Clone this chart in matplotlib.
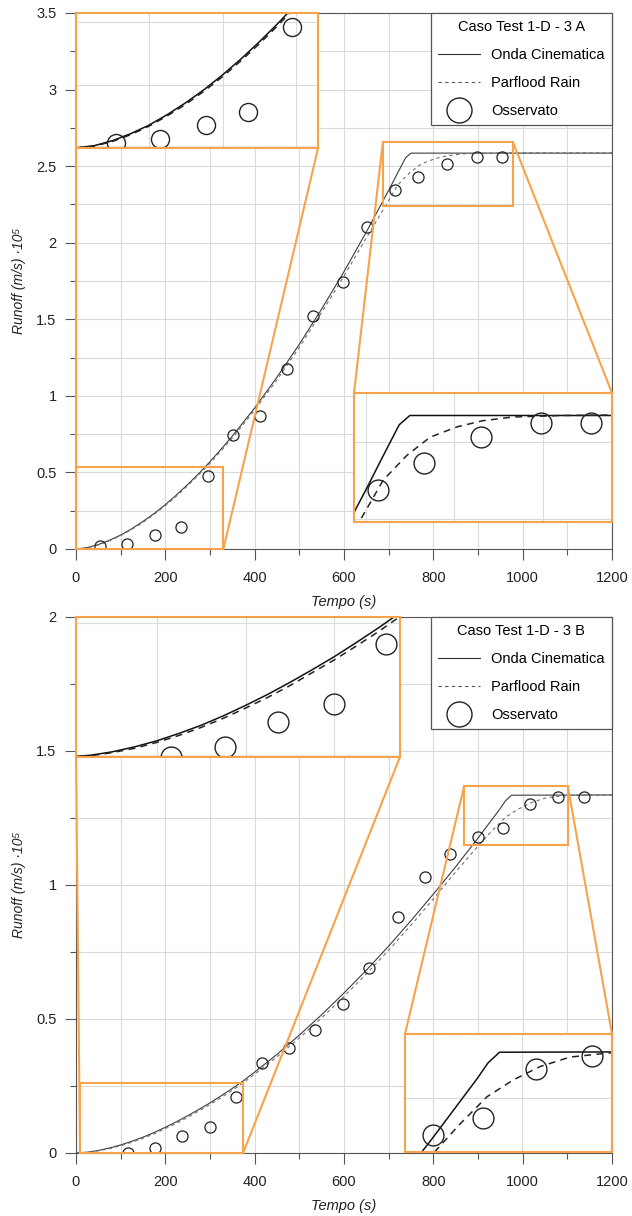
import matplotlib
matplotlib.use('Agg')
import matplotlib.pyplot as plt
from matplotlib.patches import Rectangle, ConnectionPatch
from matplotlib.lines import Line2D
from matplotlib.ticker import MultipleLocator, FuncFormatter

plt.rcParams['font.family'] = ['Liberation Sans', 'DejaVu Sans']

# --- Caso Test 1-D - 3 A ---
t_obs_a = [54, 114, 177, 235, 295, 351, 412, 472, 531, 598, 651, 714, 766, 830, 898, 954]
q_obs_a = [0.02, 0.035, 0.092, 0.144, 0.478, 0.745, 0.87, 1.175, 1.52, 1.745, 2.105,
           2.345, 2.43, 2.515, 2.56, 2.56]

t_onda_a = [0, 25, 50, 75, 100, 125, 150, 175, 200, 225, 250, 275, 300, 325, 350, 400,
            450, 500, 550, 600, 650, 700, 720, 738, 750, 1200]
q_onda_a = [0, 0.009, 0.029, 0.057, 0.091, 0.133, 0.18, 0.232, 0.29, 0.353, 0.421, 0.493,
            0.57, 0.652, 0.737, 0.921, 1.122, 1.337, 1.567, 1.811, 2.07, 2.342, 2.455,
            2.555, 2.585, 2.585]

t_parf_a = [0, 25, 50, 75, 100, 125, 150, 175, 200, 225, 250, 275, 300, 325, 350, 400,
            450, 500, 550, 600, 650, 694, 720, 747, 773, 803, 832, 866, 920, 1000, 1200]
q_parf_a = [0, 0.007, 0.026, 0.053, 0.087, 0.128, 0.174, 0.226, 0.283, 0.346, 0.413,
            0.485, 0.561, 0.642, 0.725, 0.907, 1.105, 1.317, 1.545, 1.782, 2.032, 2.246,
            2.376, 2.457, 2.515, 2.548, 2.568, 2.58, 2.585, 2.587, 2.587]

# --- Caso Test 1-D - 3 B ---
t_obs_b = [116, 177, 237, 300, 358, 416, 477, 535, 598, 656, 721, 781, 837, 900, 956,
           1016, 1079, 1137]
q_obs_b = [0.0, 0.019, 0.065, 0.098, 0.21, 0.336, 0.39, 0.46, 0.556, 0.69, 0.88, 1.03,
           1.116, 1.18, 1.212, 1.304, 1.328, 1.328]

t_onda_b = [0, 25, 50, 75, 100, 125, 150, 175, 200, 225, 250, 275, 300, 325, 350, 375,
            400, 450, 500, 550, 600, 650, 700, 750, 800, 850, 900, 950, 962, 975, 1200]
q_onda_b = [0, 0.003, 0.0095, 0.0187, 0.030, 0.0438, 0.059, 0.0766, 0.096, 0.1166, 0.139,
            0.1625, 0.187, 0.2135, 0.241, 0.27, 0.302, 0.368, 0.44, 0.516, 0.597, 0.682,
            0.772, 0.867, 0.966, 1.068, 1.175, 1.286, 1.315, 1.335, 1.336]

t_parf_b = [0, 25, 50, 75, 100, 125, 150, 175, 200, 225, 250, 275, 300, 325, 350, 375,
            400, 450, 500, 550, 600, 650, 700, 750, 800, 850, 900, 930, 961, 990, 1020,
            1054, 1100, 1200]
q_parf_b = [0, 0.002, 0.008, 0.016, 0.027, 0.040, 0.055, 0.072, 0.091, 0.111, 0.133,
            0.157, 0.181, 0.207, 0.234, 0.263, 0.294, 0.359, 0.429, 0.504, 0.584, 0.668,
            0.757, 0.850, 0.948, 1.049, 1.145, 1.20, 1.252, 1.283, 1.308, 1.326, 1.334,
            1.336]

titles = ['Caso Test 1-D - 3 A', 'Caso Test 1-D - 3 B']

ORANGE = '#F7A34C'
GRID = '#dadada'
AXC = '#555555'


def style_main(ax, ymax):
    ax.set_xlim(0, 1200)
    ax.set_ylim(0, ymax)
    ax.xaxis.set_major_locator(MultipleLocator(200))
    ax.xaxis.set_minor_locator(MultipleLocator(100))
    ax.yaxis.set_major_locator(MultipleLocator(0.5))
    ax.yaxis.set_minor_locator(MultipleLocator(0.25))
    ax.yaxis.set_major_formatter(FuncFormatter(lambda v, p: '%g' % v))
    ax.grid(which='both', color=GRID, lw=0.8)
    ax.set_axisbelow(True)
    ax.tick_params(which='major', direction='out', length=8, width=0.8, color=AXC,
                   labelsize=10.5, labelcolor='#222')
    ax.tick_params(axis='x', which='major', pad=8)
    ax.tick_params(axis='y', which='major', pad=6)
    ax.tick_params(which='minor', direction='out', length=4, width=0.8, color=AXC)
    for s in ax.spines.values():
        s.set_color(AXC)
        s.set_linewidth(0.8)
    ax.set_xlabel('Tempo (s)', style='italic', fontsize=10.5, color='#222', labelpad=7)
    ax.set_ylabel('Runoff (m/s) ·10⁵', style='italic', fontsize=10, color='#222',
                  labelpad=7)


def draw_series(ax, t_on, q_on, t_pf, q_pf, t_ob, q_ob, ms, inset=False):
    if inset:
        ax.plot(t_on, q_on, color='#111111', lw=1.1)
        ax.plot(t_pf, q_pf, color='#222222', lw=1.1, dashes=(4.5, 3.5))
        ax.plot(t_ob, q_ob, 'o', ms=ms, mfc='none', mec='#222222', mew=1.0)
    else:
        ax.plot(t_on, q_on, color='#3c3c3c', lw=0.8)
        ax.plot(t_pf, q_pf, color='#707070', lw=0.8, dashes=(3, 3))
        ax.plot(t_ob, q_ob, 'o', ms=ms, mfc='none', mec='#222222', mew=0.9)


def add_zoom(ax, bounds, xlim, ylim, series, ms, corners, baseline=False):
    axins = ax.inset_axes(bounds, transform=ax.transData)
    axins.set_facecolor('white')
    draw_series(axins, *series, ms=ms, inset=True)
    if baseline:
        axins.axhline(0, color='#444444', lw=1.6)
    axins.set_xlim(*xlim)
    axins.set_ylim(*ylim)
    axins.xaxis.set_major_locator(MultipleLocator(100))
    axins.yaxis.set_major_locator(MultipleLocator(0.25))
    axins.grid(color=GRID, lw=0.8)
    axins.set_axisbelow(True)
    axins.tick_params(length=0, labelbottom=False, labelleft=False)
    for s in axins.spines.values():
        s.set_color(ORANGE)
        s.set_linewidth(1.5)

    x0, x1 = xlim
    y0, y1 = ylim
    ax.add_patch(Rectangle((x0, y0), x1 - x0, y1 - y0, fill=False, ec=ORANGE, lw=1.5,
                           zorder=4, clip_on=False))
    for cx, cy in corners:
        con = ConnectionPatch(xyA=(cx, cy), coordsA=axins.transAxes,
                              xyB=(x0 + cx * (x1 - x0), y0 + cy * (y1 - y0)),
                              coordsB=ax.transData, color=ORANGE, lw=1.5, zorder=4)
        con.set_clip_on(False)
        ax.add_artist(con)
    return axins


def add_legend(ax, title):
    handles = [Line2D([], [], color='#333333', lw=0.8),
               Line2D([], [], color='#555555', lw=0.8, dashes=(3, 3)),
               Line2D([], [], ls='none', marker='o', ms=18, mfc='none', mec='#222222',
                      mew=1.0)]
    labels = ['Onda Cinematica', 'Parflood Rain', 'Osservato']
    leg = ax.legend(handles, labels, loc='upper right', title=title, fontsize=10.5,
                    title_fontsize=10.5, frameon=True, fancybox=False, framealpha=1,
                    edgecolor=AXC, borderaxespad=0, handlelength=2.9, handletextpad=0.75,
                    labelspacing=0.95, borderpad=0.5)
    leg.get_frame().set_linewidth(0.9)
    leg.set_zorder(6)


fig = plt.figure(figsize=(6.32, 12.16), dpi=100)
ax_a = fig.add_axes([76 / 632, 1 - 549 / 1216, 536 / 632, 536 / 1216])
ax_b = fig.add_axes([76 / 632, 1 - 1153 / 1216, 536 / 632, 536 / 1216])

series_a = (t_onda_a, q_onda_a, t_parf_a, q_parf_a, t_obs_a, q_obs_a)
series_b = (t_onda_b, q_onda_b, t_parf_b, q_parf_b, t_obs_b, q_obs_b)

# pannello A
style_main(ax_a, 3.5)
draw_series(ax_a, *series_a, ms=8)
add_zoom(ax_a, [0, 2.619, 542, 0.881], (0, 330), (0, 0.535), series_a, 13,
         [(0, 0), (1, 0)], baseline=True)
add_zoom(ax_a, [622.4, 0.176, 577.6, 0.843], (687, 978), (2.24, 2.658), series_a, 15,
         [(0, 1), (1, 1)])
add_legend(ax_a, titles[0])

# pannello B
style_main(ax_b, 2.0)
draw_series(ax_b, *series_b, ms=8)
add_zoom(ax_b, [0, 1.478, 725.3, 0.522], (9, 374), (0, 0.261), series_b, 15,
         [(0, 0), (1, 0)], baseline=True)
add_zoom(ax_b, [736.5, 0.004, 463.5, 0.44], (869, 1101), (1.149, 1.369), series_b, 15,
         [(0, 1), (1, 1)])
add_legend(ax_b, titles[1])

fig.savefig('out.png', dpi=100)
